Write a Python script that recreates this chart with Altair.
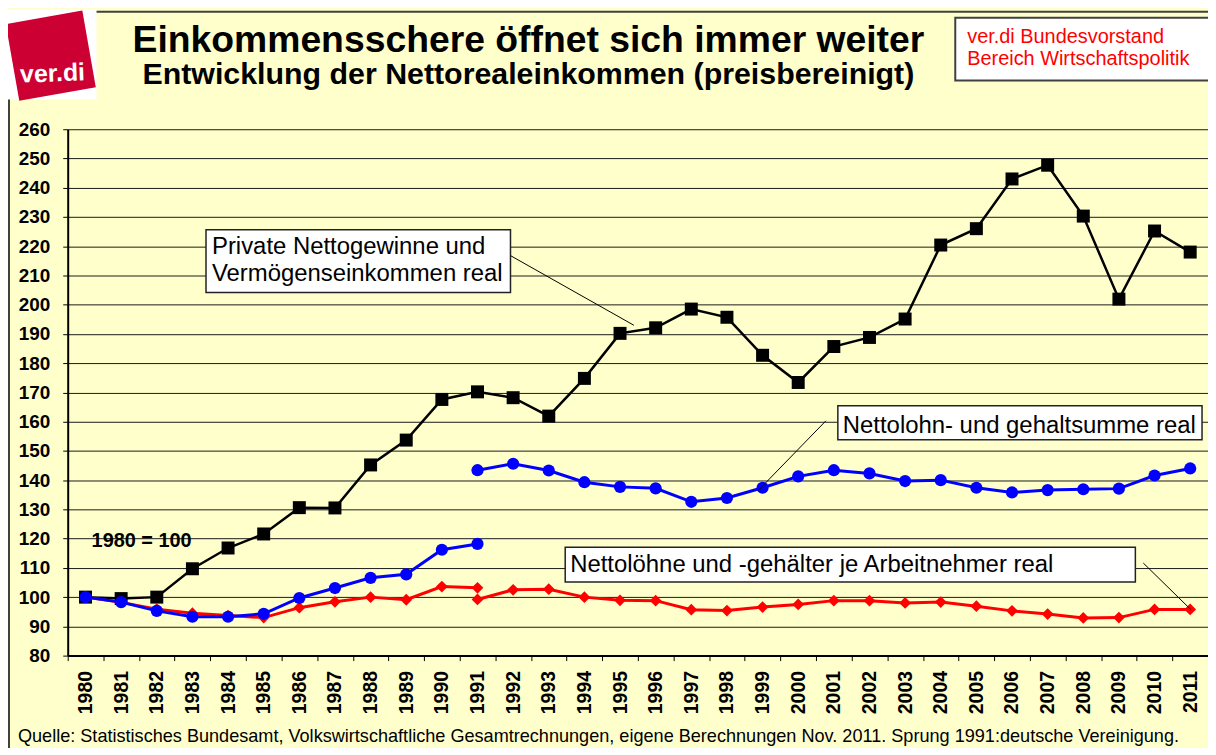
import altair as alt
import pandas as pd

FONT = "Liberation Sans"

# ---------------- data ----------------
years = [str(y) for y in range(1980, 2012)]

# Private Nettogewinne und Vermögenseinkommen real (1980-2011)
profits = [100.0, 99.5, 100.0, 109.7, 116.8, 121.6, 130.6, 130.5, 145.2, 153.7,
           167.6, 170.2, 168.2, 161.9, 174.8, 190.2, 192.1, 198.5, 195.7, 182.7,
           173.4, 185.7, 188.8, 195.1, 220.4, 226.0, 243.0, 247.7, 230.3, 201.9,
           225.2, 218.0]

# Nettolohn- und gehaltsumme real
payroll_years_west = [str(y) for y in range(1980, 1992)]
payroll_west = [100.0, 98.3, 95.3, 93.3, 93.3, 94.3, 99.7, 103.1, 106.6, 107.8,
                116.2, 118.2]
payroll_years_unified = [str(y) for y in range(1991, 2012)]
payroll_unified = [143.4, 145.6, 143.3, 139.3, 137.7, 137.2, 132.6, 133.9, 137.4,
                   141.3, 143.4, 142.3, 139.7, 140.0, 137.4, 135.8, 136.6, 136.9,
                   137.1, 141.6, 144.0]

# Nettolöhne und -gehälter je Arbeitnehmer real
wage_years_west = [str(y) for y in range(1980, 1992)]
wage_west = [100.0, 98.2, 95.9, 94.5, 93.7, 93.0, 96.4, 98.4, 100.0, 99.1,
             103.6, 103.2]
wage_years_unified = [str(y) for y in range(1991, 2012)]
wage_unified = [99.2, 102.5, 102.7, 100.0, 98.9, 98.8, 95.7, 95.4, 96.6, 97.5,
                98.8, 98.8, 98.0, 98.3, 96.9, 95.3, 94.2, 92.9, 93.0, 95.8, 95.8]

y_ticks = list(range(80, 261, 10))

# ---------------- tables ----------------
def seg(series, segment, yrs, vals):
    return pd.DataFrame({"series": series, "segment": segment, "year": yrs, "value": vals})

df_profit = seg("profit", "p", years, profits)
df_pay = pd.concat([seg("payroll", "pw", payroll_years_west, payroll_west),
                    seg("payroll", "pu", payroll_years_unified, payroll_unified)])
df_wage = pd.concat([seg("wage", "ww", wage_years_west, wage_west),
                     seg("wage", "wu", wage_years_unified, wage_unified)])

one = pd.DataFrame({"k": [0]})

x_enc = alt.X("year:O",
              scale=alt.Scale(type="band", domain=years, paddingInner=0, paddingOuter=0),
              axis=alt.Axis(title=None, labelAngle=270, tickBand="extent", grid=False,
                            labelFontSize=19.5, labelFontWeight="bold", labelPadding=10,
                            tickSize=5, tickColor="black", domainColor="black",
                            domainWidth=2, labelColor="black", labelFont=FONT))
y_enc = alt.Y("value:Q",
              scale=alt.Scale(domain=[80, 260], nice=False, zero=False),
              axis=alt.Axis(title=None, values=y_ticks, grid=True, gridColor="#1a1a1a",
                            gridWidth=1, gridOpacity=1, labelFontSize=19,
                            labelFontWeight="bold", labelPadding=13, tickSize=5,
                            tickColor="black", domainColor="black", domainWidth=2,
                            labelColor="black", labelFont=FONT))


def series_layers(df, color, shape, size, width):
    base = alt.Chart(df)
    line = base.mark_line(color=color, strokeWidth=width).encode(
        x=x_enc, y=y_enc, detail="segment:N")
    pts = base.mark_point(color=color, shape=shape, filled=True, size=size, opacity=1).encode(
        x=x_enc, y=y_enc, detail="segment:N")
    return [line, pts]


# ---------------- decorations (pixel positions relative to plot origin) ----------------
def txt(text, x, y, size, bold=False, color="black", align="left", angle=0):
    return alt.Chart(one).mark_text(
        text=text, fontSize=size, fontWeight="bold" if bold else "normal",
        color=color, align=align, baseline="alphabetic", font=FONT, angle=angle
    ).encode(x=alt.value(x), y=alt.value(y))


def box(x1, x2, y1, y2, fill="white", stroke="#222222", sw=1.5):
    return alt.Chart(one).mark_rect(fill=fill, stroke=stroke, strokeWidth=sw).encode(
        x=alt.value(x1), x2=alt.value(x2), y=alt.value(y1), y2=alt.value(y2))


def rule(x1, y1, x2, y2, color="black", sw=1):
    return alt.Chart(one).mark_rule(color=color, strokeWidth=sw).encode(
        x=alt.value(x1), y=alt.value(y1), x2=alt.value(x2), y2=alt.value(y2))


decor_back = [
    box(-60, 29, -120, -30, fill="white", stroke="white", sw=0),
    rule(29, -118, 1170, -118, color="#404040", sw=2),
    rule(-59, -30, -59, 640, color="#404040", sw=2),
    # logo
    alt.Chart(one).mark_point(shape="square", filled=True, size=6100, angle=350,
                              color="#CC0033", opacity=1).encode(
        x=alt.value(-17), y=alt.value(-74)),
    txt("ver.di", -15, -48, 25, bold=True, color="white", align="center", angle=358),
    # titles
    txt("Einkommensschere öffnet sich immer weiter", 463, -78, 37.5, bold=True, align="center"),
    txt("Entwicklung der Nettorealeinkommen (preisbereinigt)", 463, -45, 30.5, bold=True,
        align="center"),
    # top-right box
    box(892, 1170, -112, -49, stroke="#404040", sw=2),
    txt("ver.di Bundesvorstand", 904, -87, 20, color="#FF0000"),
    txt("Bereich Wirtschaftspolitik", 904, -65, 20, color="#FF0000"),
    # footer
    txt("Quelle: Statistisches Bundesamt, Volkswirtschaftliche Gesamtrechnungen, eigene "
        "Berechnungen Nov. 2011. Sprung 1991:deutsche Vereinigung.", -50, 616, 18.2),
]

decor_front = [
    rule(445, 127, 569, 197),
    box(139, 445, 101, 164),
    txt("Private Nettogewinne und", 145, 125, 24),
    txt("Vermögenseinkommen real", 145, 153, 24),
    rule(762, 293, 694, 363),
    box(774, 1140, 278, 312),
    txt("Nettolohn- und gehaltsumme real", 779, 305, 24),
    rule(1081, 436, 1129, 483),
    box(500, 1073, 420, 455),
    txt("Nettolöhne und -gehälter je Arbeitnehmer real", 505, 445, 24),
    txt("1980 = 100", 24, 420, 20, bold=True),
]

layers = (decor_back
          + series_layers(df_profit, "black", "square", 170, 2.5)
          + series_layers(df_wage, "#FF0000", "diamond", 140, 3)
          + series_layers(df_pay, "#0000FF", "circle", 150, 3)
          + decor_front)

chart = alt.layer(*layers).properties(
    width=1146, height=529,
    autosize=alt.AutoSizeParams(type="none"),
    padding={"left": 60, "top": 120, "right": 0, "bottom": 91},
    background="#FFFFCC",
).configure_view(fill="#FFFFCC", stroke=None)

chart.save("out.html", embed_options={"renderer": "svg", "actions": False})
